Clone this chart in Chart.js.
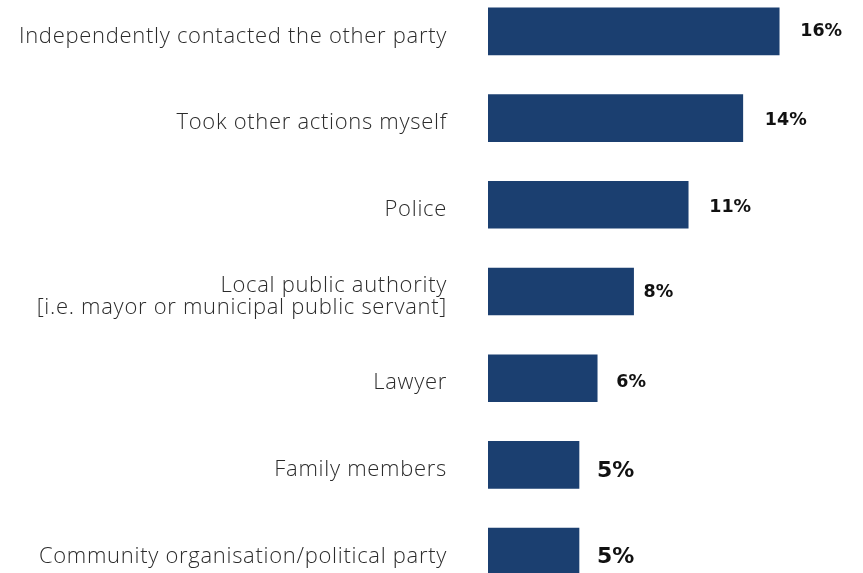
<!DOCTYPE html>
<html>
<head>
<meta charset="utf-8">
<script src="https://cdn.jsdelivr.net/npm/chart.js@4/dist/chart.umd.min.js"></script>
<style>
html, body { margin: 0; padding: 0; background: #fff; overflow: hidden; }
#wrap { position: relative; width: 863px; height: 573px; overflow: hidden; }
#chart { position: absolute; left: 0; top: -12px; }
</style>
</head>
<body>
<div id="wrap"><canvas id="chart" width="863" height="607"></canvas></div>
<script>
const categories = [
  "Independently contacted the other party",
  "Took other actions myself",
  "Police",
  ["Local public authority", "[i.e. mayor or municipal public servant]"],
  "Lawyer",
  "Family members",
  "Community organisation/political party"
]
const values = [16, 14, 11, 8, 6, 5, 5]
const valueLabels = ["16%", "14%", "11%", "8%", "6%", "5%", "5%"]

// label look per bar (the last two are drawn bigger in the original)
const labelFont = [17.5, 17.5, 17.5, 17.5, 17.5, 22, 22]
const labelGap = [21, 22, 21, 10, 19, 18, 18]
const labelDrop = [0, 2, 3, 1, 4.5, 6, 6]

// category text is wide/airy and sits a little under the bar middle
const axisText = {
  id: "axisText",
  beforeDraw(chart){
    chart.ctx.save()
    chart.ctx.letterSpacing = "0.7px"
    chart.ctx.translate(0, 5)
  },
  beforeDatasetsDraw(chart){
    chart.ctx.restore()
  }
}

const valuePlugin = {
  id: "valueLabels",
  afterDatasetsDraw(chart){
    const ctx = chart.ctx
    const meta = chart.getDatasetMeta(0)
    ctx.save()
    ctx.fillStyle = "#111"
    ctx.textAlign = "left"
    ctx.textBaseline = "middle"
    meta.data.forEach((bar, i) => {
      ctx.font = "bold " + labelFont[i] + "px 'DejaVu Sans', sans-serif"
      ctx.fillText(valueLabels[i], bar.x + labelGap[i], bar.y + labelDrop[i])
    })
    ctx.restore()
  }
}

new Chart(document.getElementById("chart"), {
  type: "bar",
  data: {
    labels: categories,
    datasets: [{
      data: values,
      backgroundColor: "#1b3f70",
      barThickness: 47
    }]
  },
  options: {
    indexAxis: "y",
    responsive: false,
    animation: false,
    layout: { padding: { left: 0, right: 11, top: 0, bottom: 0 } },
    plugins: { legend: { display: false }, tooltip: { enabled: false } },
    scales: {
      x: {
        min: 0,
        max: 20,
        display: false
      },
      y: {
        grid: { display: false, drawTicks: false },
        border: { display: false },
        afterFit(scale){
          scale.width = 488
          scale.paddingTop = 0
          scale.paddingBottom = 0
        },
        ticks: {
          color: "#2b2b2b",
          padding: 41,
          font: { family: "'Open Sans'", size: 22, weight: 300, lineHeight: 1 }
        }
      }
    }
  },
  plugins: [axisText, valuePlugin]
})
</script>
</body>
</html>
